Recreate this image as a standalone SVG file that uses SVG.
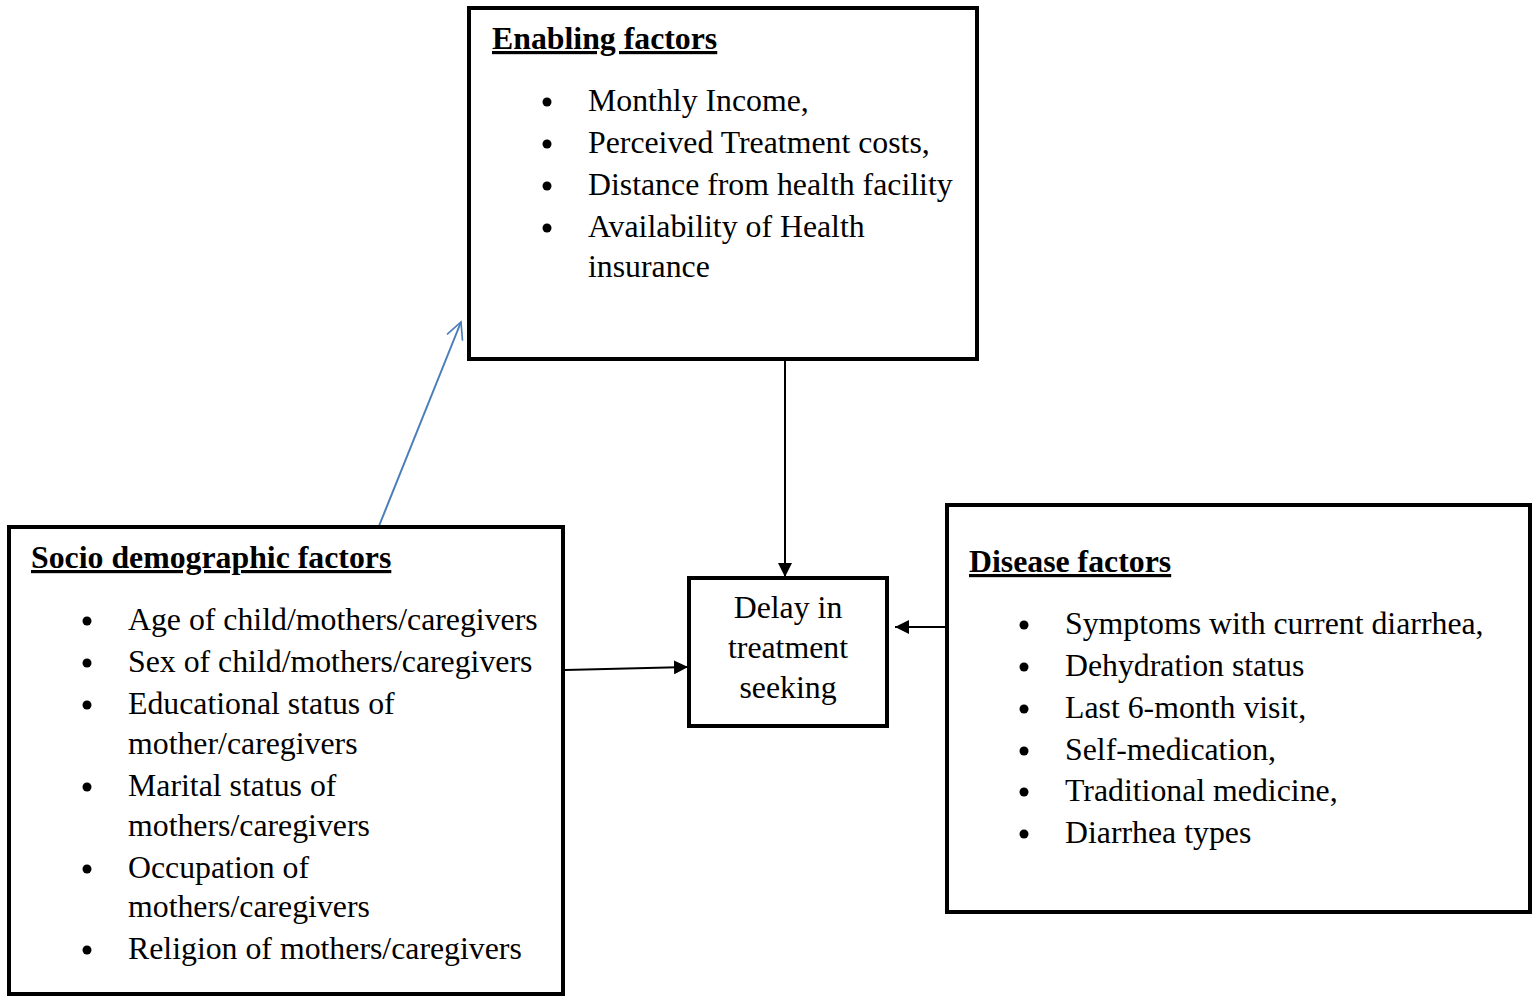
<svg xmlns="http://www.w3.org/2000/svg" width="1533" height="996" viewBox="0 0 1533 996">
<style>
.box{fill:#fff;stroke:#000;stroke-width:4}
text{font-family:"Liberation Serif","Times New Roman",serif;font-size:31.8px;fill:#000}
.title{font-weight:bold;text-decoration:underline}
.conn{stroke:#000;stroke-width:2;fill:none}
</style>
<defs>
<marker id="ah2" viewBox="0 0 10 10" refX="10" refY="5" markerWidth="14" markerHeight="14" orient="auto" markerUnits="userSpaceOnUse">
<path d="M0,0L10,5L0,10z" fill="#000"/>
</marker>
<marker id="open" viewBox="0 0 12 12" refX="11" refY="6" markerWidth="20" markerHeight="20" orient="auto" markerUnits="userSpaceOnUse">
<path d="M1,1L11,6L1,11" fill="none" stroke="#4a7ebb" stroke-width="1"/>
</marker>
</defs>
<g id="connectors">
<line class="conn" x1="785" y1="361" x2="785" y2="577" marker-end="url(#ah2)"/>
<line class="conn" x1="565" y1="670" x2="688" y2="667" marker-end="url(#ah2)"/>
<line class="conn" x1="946" y1="627" x2="895" y2="627" marker-end="url(#ah2)"/>
<line x1="379" y1="526" x2="461" y2="322" stroke="#4a7ebb" stroke-width="2" fill="none" marker-end="url(#open)"/>
</g>
<g id="enabling">
<rect class="box" x="469" y="8" width="508" height="351"/>
<text class="title" x="492" y="49">Enabling factors</text>
<g>
<circle cx="547" cy="102" r="4.5"/><text x="588" y="111">Monthly Income,</text>
<circle cx="547" cy="144" r="4.5"/><text x="588" y="153">Perceived Treatment costs,</text>
<circle cx="547" cy="186" r="4.5"/><text x="588" y="195">Distance from health facility</text>
<circle cx="547" cy="228" r="4.5"/><text x="588" y="237">Availability of Health</text>
<text x="588" y="277">insurance</text>
</g>
</g>
<g id="socio">
<rect class="box" x="9" y="527" width="554" height="467"/>
<text class="title" x="31" y="568">Socio demographic factors</text>
<circle cx="87" cy="621" r="4.5"/><text x="128" y="630">Age of child/mothers/caregivers</text>
<circle cx="87" cy="663" r="4.5"/><text x="128" y="672">Sex of child/mothers/caregivers</text>
<circle cx="87" cy="705" r="4.5"/><text x="128" y="714">Educational status of</text>
<text x="128" y="754">mother/caregivers</text>
<circle cx="87" cy="787" r="4.5"/><text x="128" y="796">Marital status of</text>
<text x="128" y="836">mothers/caregivers</text>
<circle cx="87" cy="869" r="4.5"/><text x="128" y="878">Occupation of</text>
<text x="128" y="917">mothers/caregivers</text>
<circle cx="87" cy="950" r="4.5"/><text x="128" y="959">Religion of mothers/caregivers</text>
</g>
<g id="delay">
<rect class="box" x="689" y="578" width="198" height="148"/>
<text x="788" y="618" text-anchor="middle">Delay in</text>
<text x="788" y="658" text-anchor="middle">treatment</text>
<text x="788" y="698" text-anchor="middle">seeking</text>
</g>
<g id="disease">
<rect class="box" x="947" y="505" width="583" height="407"/>
<text class="title" x="969" y="572">Disease factors</text>
<circle cx="1024" cy="625" r="4.5"/><text x="1065" y="634">Symptoms with current diarrhea,</text>
<circle cx="1024" cy="667" r="4.5"/><text x="1065" y="676">Dehydration status</text>
<circle cx="1024" cy="709" r="4.5"/><text x="1065" y="718">Last 6-month visit,</text>
<circle cx="1024" cy="751" r="4.5"/><text x="1065" y="760">Self-medication,</text>
<circle cx="1024" cy="792" r="4.5"/><text x="1065" y="801">Traditional medicine,</text>
<circle cx="1024" cy="834" r="4.5"/><text x="1065" y="843">Diarrhea types</text>
</g>
</svg>
